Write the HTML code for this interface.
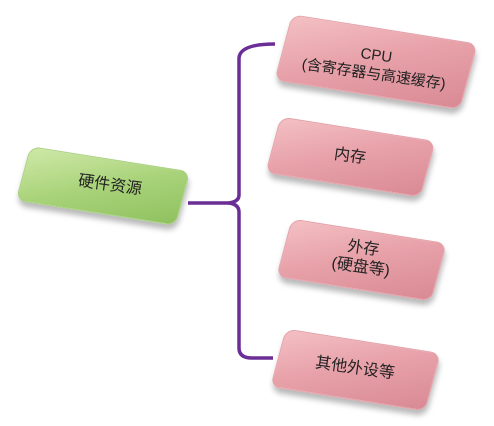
<!DOCTYPE html>
<html><head><meta charset="utf-8"><style>
body{margin:0;width:494px;height:426px;background:#fff;overflow:hidden;position:relative;font-family:"Liberation Sans","Noto Sans CJK SC",sans-serif}
.b{position:absolute;border-radius:10px;transform:rotate(9deg) skewX(-6deg);box-shadow:2px 5px 6px rgba(0,0,0,.28)}
.p{background:linear-gradient(160deg,#f3c0c4 0%,#e8a2aa 45%,#d98a94 100%);border:1px solid #e4a0a8}
.g{background:linear-gradient(160deg,#cfe9a8 0%,#a9d37a 50%,#8fc15f 100%);border:1px solid #a8d080}
.t{position:absolute;color:#222;font-size:16px;text-align:center;line-height:19px;transform:rotate(8deg);white-space:nowrap}
</style></head><body>
<svg width="494" height="426" style="position:absolute;left:0;top:0">
<path d="M275,44 Q240,44 239,58 L239,195 Q239,202 228,203 L188,203 M228,203 Q239,204 239,212 L239,348 Q239,358 252,358 L273,358" fill="none" stroke="#6a2e96" stroke-width="3.5"/>
</svg>
<div class="b g" style="left:22px;top:158px;width:160px;height:54px"></div>
<div class="t" style="left:60px;top:176px;width:100px">硬件资源</div>
<div class="b p" style="left:282px;top:28px;width:186px;height:66px"></div>
<div class="t" style="left:300px;top:46px;width:150px;font-size:15px">CPU<br>(含寄存器与高速缓存)</div>
<div class="b p" style="left:272px;top:128px;width:155px;height:56px"></div>
<div class="t" style="left:300px;top:147px;width:100px">内存</div>
<div class="b p" style="left:283px;top:230px;width:155px;height:58px"></div>
<div class="t" style="left:312px;top:239px;width:100px">外存<br>(硬盘等)</div>
<div class="b p" style="left:277px;top:340px;width:155px;height:58px"></div>
<div class="t" style="left:305px;top:359px;width:100px">其他外设等</div>
</body></html>
